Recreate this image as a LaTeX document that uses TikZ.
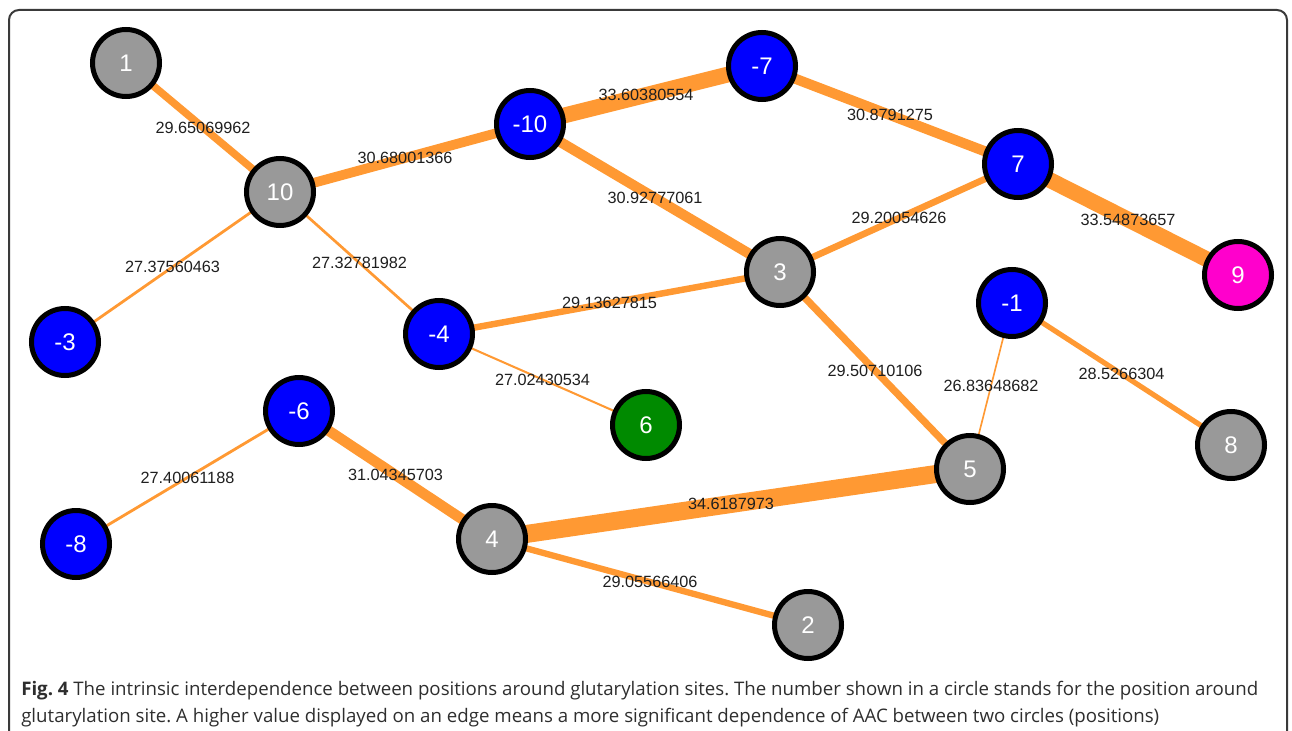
\documentclass[tikz,border=0pt]{standalone}
\usepackage{fontspec}
\setmainfont{Liberation Sans}
\newfontfamily\capfont{Open Sans}
\usetikzlibrary{backgrounds}
\definecolor{edgeor}{HTML}{FF9933}
\definecolor{ngray}{HTML}{999999}
\definecolor{nblue}{HTML}{0000FF}
\definecolor{nmag}{HTML}{FF00CC}
\definecolor{ngreen}{HTML}{008A00}
\definecolor{captxt}{HTML}{2E2E2E}
\definecolor{framec}{HTML}{3A3A3A}
\tikzset{
  site/.style={circle, draw=black, line width=3.75pt, minimum size=50.25pt, inner sep=0pt,
    text=white, font=\fontsize{18}{20}\selectfont},
  gsite/.style={site, fill=ngray},
  bsite/.style={site, fill=nblue},
  msite/.style={site, fill=nmag},
  esite/.style={site, fill=ngreen},
  gline/.style={draw=edgeor, line cap=butt},
  elabel/.style={midway, inner sep=0pt, text=black!88, font=\fontsize{12.2}{14}\selectfont},
  capline/.style={anchor=base west, inner sep=0pt, text=captxt, font=\capfont\fontsize{14}{16}\selectfont\frenchspacing},
}
\newcommand\gedge[3]{%
  \pgfmathsetmacro\ew{0.75*(18-2.1*(34.62-#3))}%
  \draw[gline, line width=\ew pt] (#1.center) -- (#2.center) node[elabel]{#3};}
\begin{document}
\begin{tikzpicture}[x=0.75pt, y=-0.75pt]
\useasboundingbox (0,0) rectangle (1292,731);
\clip (0,0) rectangle (1292,731);
\draw[framec, line width=1.5pt, rounded corners=7.5pt] (9,10) rectangle (1287,800);

% nodes
\node[gsite] (n1)   at (126,63)   {1};
\node[gsite] (n10)  at (280,192)  {10};
\node[bsite] (nm10) at (530,124)  {-10};
\node[bsite] (nm7)  at (762,66)   {-7};
\node[bsite] (n7)   at (1018,164) {7};
\node[msite] (n9)   at (1238,275) {9};
\node[gsite] (n3)   at (780,272)  {3};
\node[bsite] (nm1)  at (1012,303) {-1};
\node[bsite] (nm3)  at (65,342)   {-3};
\node[bsite] (nm4)  at (439,334)  {-4};
\node[esite] (n6)   at (646,425)  {6};
\node[bsite] (nm6)  at (299,411)  {-6};
\node[gsite] (n5)   at (970,469)  {5};
\node[gsite] (n8)   at (1231,445) {8};
\node[bsite] (nm8)  at (76,544)   {-8};
\node[gsite] (n4)   at (492,539)  {4};
\node[gsite] (n2)   at (808,625)  {2};

% edges
\begin{scope}[on background layer]
\gedge{n1}{n10}{29.65069962}
\gedge{n10}{nm10}{30.68001366}
\gedge{nm10}{nm7}{33.60380554}
\gedge{nm7}{n7}{30.8791275}
\gedge{n7}{n9}{33.54873657}
\gedge{nm10}{n3}{30.92777061}
\gedge{n3}{n7}{29.20054626}
\gedge{n10}{nm3}{27.37560463}
\gedge{n10}{nm4}{27.32781982}
\gedge{nm4}{n3}{29.13627815}
\gedge{nm4}{n6}{27.02430534}
\gedge{n3}{n5}{29.50710106}
\gedge{nm1}{n5}{26.83648682}
\gedge{nm1}{n8}{28.5266304}
\gedge{nm6}{nm8}{27.40061188}
\gedge{nm6}{n4}{31.04345703}
\gedge{n4}{n5}{34.6187973}
\gedge{n4}{n2}{29.05566406}
\end{scope}

% caption
\node[capline] (cap1) at (21,695) {\makebox[927.75pt][s]{\textbf{Fig. 4} The intrinsic interdependence between positions around glutarylation sites. The number shown in a circle stands for the position around}};
\node[capline] (cap2) at (21,722) {glutarylation site. A higher value displayed on an edge means a more significant dependence of AAC between two circles (positions)};
\end{tikzpicture}
\end{document}
